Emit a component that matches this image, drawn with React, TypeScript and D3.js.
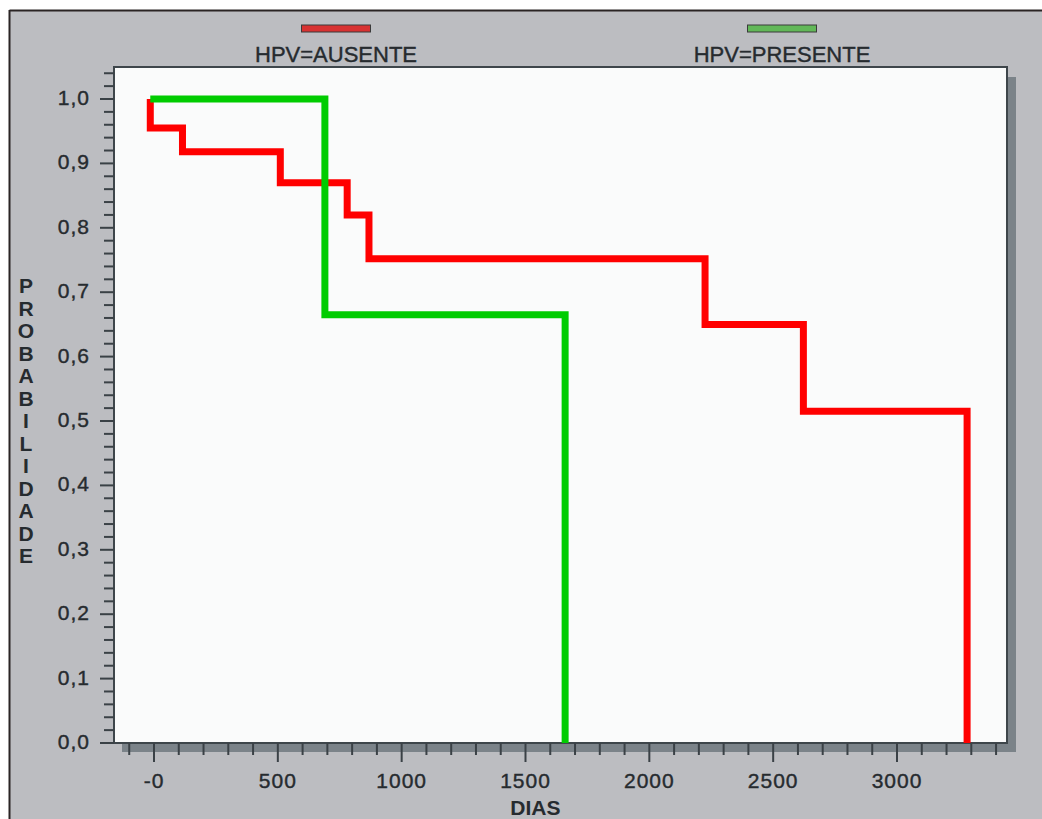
import React, { useEffect, useRef } from 'react';
import * as d3 from 'd3';

// Kaplan-Meier steps: [day, survival after that day]
const ausenteTimes = [-15, -15, 115, 510, 780, 868, 2225, 2622, 3283];
const ausenteSurv = [1.0, 0.955, 0.918, 0.87, 0.82, 0.752, 0.65, 0.515, 0];
const presenteTimes = [-15, 690, 1660];
const presenteSurv = [1.0, 0.665, 0];

const seriesNames = ['HPV=AUSENTE', 'HPV=PRESENTE'];
const seriesColors = ['#ff0000', '#00cc00'];
const swatchColors = ['#d83232', '#62b858'];

const xMajorTicks = [0, 500, 1000, 1500, 2000, 2500, 3000];
const xTickLabels = ['-0', '500', '1000', '1500', '2000', '2500', '3000'];
const yMajorTicks = [0, 0.1, 0.2, 0.3, 0.4, 0.5, 0.6, 0.7, 0.8, 0.9, 1.0];
const yTickLabels = ['0,0', '0,1', '0,2', '0,3', '0,4', '0,5', '0,6', '0,7', '0,8', '0,9', '1,0'];
const yLabel = 'PROBABILIDADE';
const xLabel = 'DIAS';

const W = 1042;
const H = 819;
const FONT = '"Liberation Sans", Arial, sans-serif';
const INK = '#262b2f';

const App: React.FC = () => {
  const svgRef = useRef<SVGSVGElement>(null);

  useEffect(() => {
    if (!svgRef.current) return;
    const svg = d3.select(svgRef.current);
    svg.selectAll('*').remove();

    const plot = { left: 114, top: 67, right: 1007, bottom: 743 };
    const x = d3.scaleLinear().domain([0, 3000]).range([154, 897]);
    const y = d3.scaleLinear().domain([0, 1]).range([743, 99]);

    // page background and frame
    svg.append('rect').attr('width', W).attr('height', H).attr('fill', '#ffffff');
    svg.append('rect')
      .attr('x', 10).attr('y', 11).attr('width', W - 10).attr('height', H - 11)
      .attr('fill', '#bcbdc1');
    svg.append('line').attr('x1', 9.5).attr('x2', W).attr('y1', 10.5).attr('y2', 10.5)
      .attr('stroke', '#2a2424').attr('stroke-width', 2);
    svg.append('line').attr('x1', 9.5).attr('x2', 9.5).attr('y1', 10).attr('y2', H)
      .attr('stroke', '#2a2424').attr('stroke-width', 2);

    // legend
    const legendX = [336, 782];
    seriesNames.forEach((name, i) => {
      svg.append('rect')
        .attr('x', legendX[i] - 34.5).attr('y', 25).attr('width', 69).attr('height', 7)
        .attr('fill', swatchColors[i]).attr('stroke', '#3a3a3a').attr('stroke-width', 1);
      svg.append('text')
        .attr('x', legendX[i]).attr('y', 62)
        .attr('text-anchor', 'middle')
        .style('font-family', FONT)
        .style('font-size', '22px')
        .style('fill', INK)
        .style('stroke', INK)
        .style('stroke-width', '0.4px')
        .text(name);
    });

    // shadow
    svg.append('rect')
      .attr('x', plot.right).attr('y', 77).attr('width', 9).attr('height', plot.bottom + 9 - 77)
      .attr('fill', '#7b8389');
    svg.append('rect')
      .attr('x', 122).attr('y', plot.bottom).attr('width', plot.right + 9 - 122).attr('height', 9)
      .attr('fill', '#7b8389');

    // plot area
    svg.append('rect')
      .attr('x', plot.left).attr('y', plot.top)
      .attr('width', plot.right - plot.left).attr('height', plot.bottom - plot.top)
      .attr('fill', '#fafbfb').attr('stroke', '#3e464b').attr('stroke-width', 2);

    // y ticks
    const yAll = d3.range(0, 53).map(i => i * 0.02);
    yAll.forEach(v => {
      const major = Math.abs(v * 10 - Math.round(v * 10)) < 1e-6;
      svg.append('line')
        .attr('x1', major ? 100 : 104).attr('x2', plot.left)
        .attr('y1', y(v)).attr('y2', y(v))
        .attr('stroke', '#3a4146').attr('stroke-width', 2);
    });
    yMajorTicks.forEach((v, i) => {
      svg.append('text')
        .attr('x', 90).attr('y', y(v) + 6)
        .attr('text-anchor', 'end')
        .style('font-family', FONT)
        .style('font-size', '21px')
        .style('letter-spacing', '1px')
        .style('fill', INK)
        .style('stroke', INK)
        .style('stroke-width', '0.4px')
        .text(yTickLabels[i]);
    });

    // x ticks
    const xAll = d3.range(-100, 3500, 100);
    xAll.forEach(v => {
      const major = v >= 0 && v <= 3000 && v % 500 === 0;
      svg.append('line')
        .attr('x1', x(v)).attr('x2', x(v))
        .attr('y1', plot.bottom).attr('y2', major ? 762 : 755)
        .attr('stroke', '#3a4146').attr('stroke-width', 2);
    });
    xMajorTicks.forEach((v, i) => {
      svg.append('text')
        .attr('x', x(v)).attr('y', 788)
        .attr('text-anchor', 'middle')
        .style('font-family', FONT)
        .style('font-size', '21px')
        .style('letter-spacing', '1px')
        .style('fill', INK)
        .style('stroke', INK)
        .style('stroke-width', '0.4px')
        .text(xTickLabels[i]);
    });

    // axis titles
    svg.append('text')
      .attr('x', x(1540)).attr('y', 815)
      .attr('text-anchor', 'middle')
      .style('font-family', FONT)
      .style('font-size', '21px')
      .style('font-weight', 'bold')
      .style('fill', INK)
      .text(xLabel);

    yLabel.split('').forEach((ch, i) => {
      svg.append('text')
        .attr('x', 26).attr('y', 293 + i * 22.5)
        .attr('text-anchor', 'middle')
        .style('font-family', FONT)
        .style('font-size', '21px')
        .style('font-weight', 'bold')
        .style('fill', INK)
        .text(ch);
    });

    // curves
    const line = d3.line<[number, number]>()
      .x(d => x(d[0]))
      .y(d => y(d[1]))
      .curve(d3.curveStepAfter);

    const series: [number, number][][] = [
      ausenteTimes.map((t, i) => [t, ausenteSurv[i]]),
      presenteTimes.map((t, i) => [t, presenteSurv[i]]),
    ];

    series.forEach((pts, i) => {
      svg.append('path')
        .attr('d', line(pts) || '')
        .attr('fill', 'none')
        .attr('stroke', seriesColors[i])
        .attr('stroke-width', 7)
        .attr('stroke-linejoin', 'miter')
        .attr('stroke-linecap', 'butt');
    });
  }, []);

  return (
    <div style={{ position: 'absolute', left: 0, top: 0 }}>
      <svg ref={svgRef} width={W} height={H} style={{ display: 'block' }} />
    </div>
  );
};

export default App;
